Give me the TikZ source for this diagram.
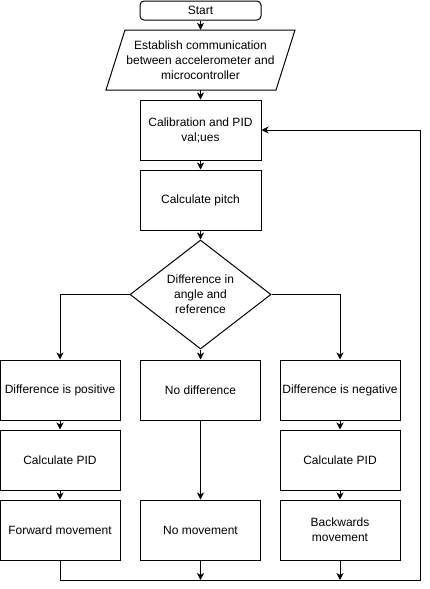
\documentclass[tikz,border=0pt]{standalone}
\usepackage{fontspec}
\setmainfont{Liberation Sans}
\usetikzlibrary{shapes.geometric,arrows.meta}
\begin{document}
\begin{tikzpicture}[x=1pt,y=-1pt,
  every node/.style={font=\fontsize{12}{15}\selectfont, align=center, inner sep=0pt},
  box/.style={draw, line width=1pt, minimum width=120pt, minimum height=60pt},
  conn/.style={line width=1pt},
  arr/.style={line width=1pt, -{Stealth[length=7pt,width=7pt,inset=2pt]}}
]
\useasboundingbox (0,0) rectangle (429,589);
% nodes
\node[draw, line width=1pt, rounded corners=4pt, minimum width=121pt, minimum height=19pt] (start) at (200.5,10.5) {Start};
\node[minimum width=190pt, minimum height=60pt] (para) at (200.5,60) {Establish communication\\between accelerometer and\\microcontroller};
\draw[line width=1pt] (125,30) -- (295,30) -- (276,90) -- (106,90) -- cycle;
\node[box, minimum width=121pt] (cal) at (200.5,130) {Calibration and PID\\val;ues};
\node[box, minimum width=121pt] (pitch) at (200.5,200) {Calculate pitch};
\node[draw, line width=1pt, diamond, minimum width=141pt, minimum height=109pt] (dia) at (200.5,294.5) {Difference in\\angle and\\reference};
\node[box] (pos) at (60,390) {Difference is positive};
\node[box] (nodiff) at (200.5,390) {No difference};
\node[box] (neg) at (340,390) {Difference is negative};
\node[box] (pidL) at (60,460) {Calculate PID};
\node[box] (pidR) at (340,460) {Calculate PID};
\node[box] (fwd) at (60,530) {Forward movement};
\node[box] (nomove) at (200.5,530) {No movement};
\node[box] (back) at (340,530) {Backwards\\movement};
\coordinate (bl) at (60,580);
\coordinate (br) at (420,580);
\coordinate (tr) at (420,130);
% connectors
\draw[arr] (start.south) -- (para.north);
\draw[arr] (para.south) -- (cal.north);
\draw[arr] (cal.south) -- (pitch.north);
\draw[arr] (pitch.south) -- (dia.north);
\draw[arr] (dia.west) -| (pos.north);
\draw[arr] (dia.south) -- (nodiff.north);
\draw[arr] (dia.east) -| (neg.north);
\draw[arr] (pos.south) -- (pidL.north);
\draw[arr] (pidL.south) -- (fwd.north);
\draw[arr] (neg.south) -- (pidR.north);
\draw[arr] (pidR.south) -- (back.north);
\draw[arr] (nodiff.south) -- (nomove.north);
\draw[arr] (fwd.south) -- (bl) -- (br) -- (tr) -- (cal.east);
\draw[arr] (nomove.south) -- (nomove.south |- bl);
\draw[arr] (back.south) -- (back.south |- bl);
\end{tikzpicture}
\end{document}
